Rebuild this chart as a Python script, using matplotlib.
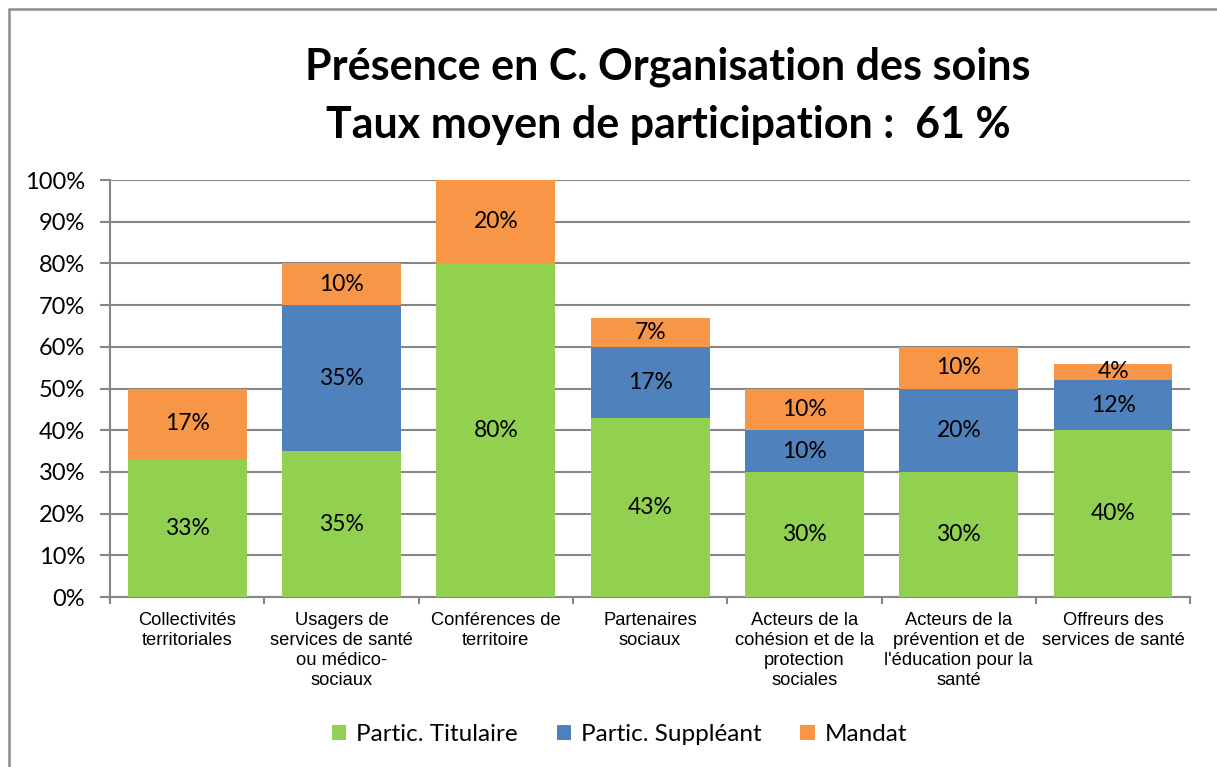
import numpy as np
import matplotlib
matplotlib.use('Agg')
import matplotlib.pyplot as plt
from matplotlib.patches import Rectangle

categories = ["Collectivités\nterritoriales",
              "Usagers de\nservices de santé\nou médico-\nsociaux",
              "Conférences de\nterritoire",
              "Partenaires\nsociaux",
              "Acteurs de la\ncohésion et de la\nprotection\nsociales",
              "Acteurs de la\nprévention et de\nl'éducation pour la\nsanté",
              "Offreurs des\nservices de santé"]
titulaire = [33, 35, 80, 43, 30, 30, 40]
suppleant = [0, 35, 0, 17, 10, 20, 12]
mandat = [17, 10, 20, 7, 10, 10, 4]

series = [("Partic. Titulaire", titulaire, "#92D050"),
          ("Partic. Suppléant", suppleant, "#4F81BD"),
          ("Mandat", mandat, "#F79646")]

fig = plt.figure(figsize=(12.17, 7.67), dpi=100)
ax = fig.add_axes([0.0904, 0.2216, 0.8876, 0.5437])

# chart frame (only left and top edges visible)
fig.patches.append(Rectangle((8.5 / 1217, -0.2), 1.5, 1.2 - 8.5 / 767, transform=fig.transFigure,
                             fill=False, edgecolor="#8c8c8c", linewidth=1.8))

x = np.arange(len(categories))
bottom = np.zeros(len(categories))
handles = []
for name, vals, col in series:
    vals = np.array(vals, dtype=float)
    b = ax.bar(x, vals, 0.77, bottom=bottom, color=col, label=name, zorder=3)
    handles.append(b)
    for xi, v, bt in zip(x, vals, bottom):
        if v > 0:
            ax.text(xi, bt + v / 2, f"{int(v)}%", ha="center", va="center",
                    fontsize=16.5, family="Lato", zorder=4)
    bottom += vals

ax.set_xlim(-0.5, len(categories) - 0.5)
ax.set_ylim(0, 100)
ax.set_yticks(np.arange(0, 101, 10))
ax.set_yticklabels([f"{v}%" for v in range(0, 101, 10)], fontsize=17, family="Lato")
ax.yaxis.grid(True, color="#868686", linewidth=1.5, zorder=0)
ax.set_axisbelow(True)

ax.set_xticks(np.arange(len(categories) + 1) - 0.5, minor=True)
ax.set_xticks(x)
ax.set_xticklabels(categories, fontsize=13.2, family="Liberation Sans", linespacing=1.22, va="top")
ax.tick_params(axis="x", which="major", length=0, pad=11)
ax.tick_params(axis="x", which="minor", length=5, color="#868686", width=1.5)
ax.tick_params(axis="y", length=7, color="#868686", width=1.5, pad=11)

for s in ["top", "right"]:
    ax.spines[s].set_visible(False)
for s in ["left", "bottom"]:
    ax.spines[s].set_color("#868686")
    ax.spines[s].set_linewidth(1.5)

fig.text(0.549, 0.913, "Présence en C. Organisation des soins", ha="center", va="center",
         fontsize=31, fontweight="bold", family="Lato")
fig.text(0.549, 0.837, "Taux moyen de participation :  61 %", ha="center", va="center",
         fontsize=31, fontweight="bold", family="Lato")

fig.legend(handles=handles, loc="center", bbox_to_anchor=(0.509, 0.042), ncol=3,
           frameon=False, prop={"family": "Lato", "size": 17.5},
           handlelength=0.6, handleheight=0.6, handletextpad=0.4, columnspacing=1.6)

fig.savefig("out.png", dpi=100)
